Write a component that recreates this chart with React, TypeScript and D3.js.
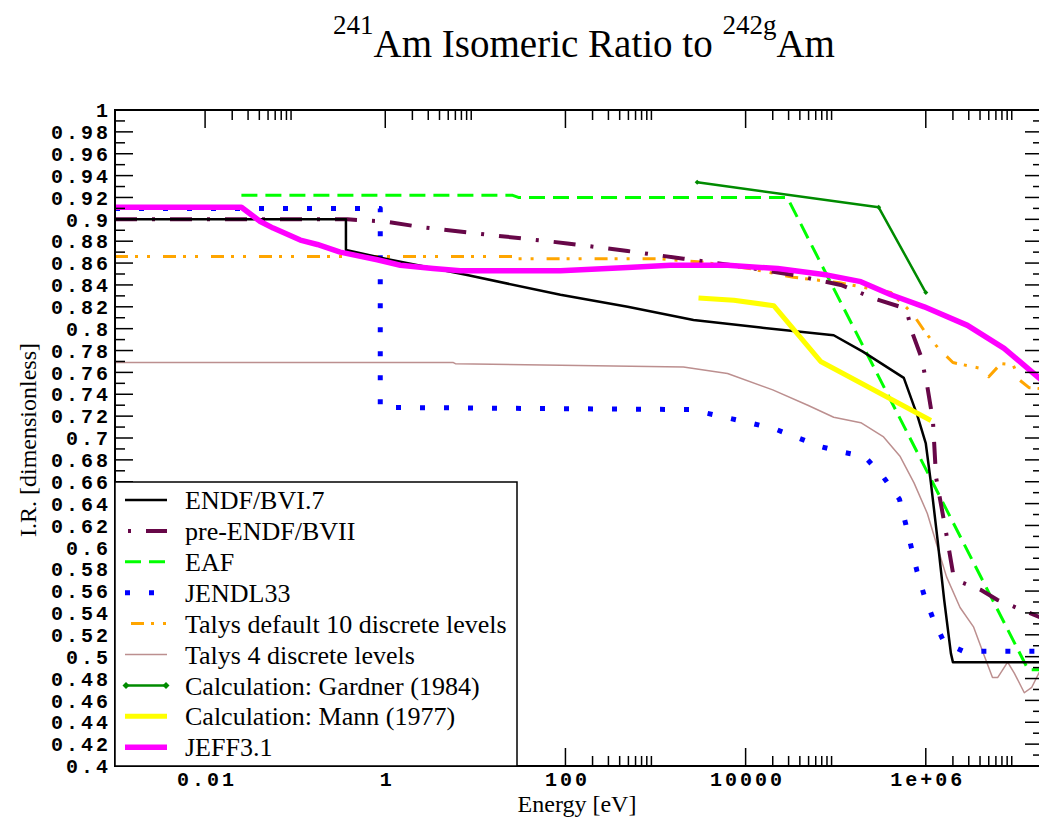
import React from 'react';
import * as d3 from 'd3';

// energies in eV, ratio values
const endf: [number, number][] = [
  [1e-3, 0.9], [0.366, 0.9], [0.366, 0.872], [1, 0.864], [8.1, 0.849], [88, 0.831],
  [490, 0.82], [2640, 0.808], [14700, 0.801], [9.5e4, 0.794], [2e5, 0.779],
  [5.7e5, 0.755], [8.1e5, 0.72], [1e6, 0.695], [1.14e6, 0.659], [1.35e6, 0.607],
  [1.6e6, 0.552], [1.9e6, 0.503], [2e6, 0.495], [2e7, 0.495]
];
const preEndf: [number, number][] = [
  [1e-3, 0.9], [0.38, 0.9], [1, 0.898], [2.45, 0.893], [8.1, 0.888], [38, 0.882],
  [105, 0.878], [490, 0.871], [2040, 0.864], [8800, 0.857], [3.4e4, 0.849],
  [1.14e5, 0.84], [2.8e5, 0.827], [5.2e5, 0.82], [6.3e5, 0.8125], [7.1e5, 0.796],
  [8.9e5, 0.774], [1.04e6, 0.747], [1.2e6, 0.716], [1.3e6, 0.664], [1.66e6, 0.616],
  [2e6, 0.577], [2.5e6, 0.568], [4.1e6, 0.561], [6.2e6, 0.552], [1e7, 0.545], [2e7, 0.535]
];
const eaf: [number, number][] = [
  [0.0253, 0.922], [26, 0.922], [30, 0.92], [2.9e4, 0.92], [1.37e7, 0.488], [2e7, 0.488]
];
const jendl: [number, number][] = [
  [1e-3, 0.91], [0.88, 0.91], [0.88, 0.728], [2450, 0.726], [1.1e4, 0.714],
  [2.15e4, 0.708], [6.9e4, 0.692], [1.2e5, 0.687], [2.1e5, 0.683], [3.4e5, 0.664],
  [5.1e5, 0.644], [6e5, 0.621], [8e5, 0.578], [9.6e5, 0.556], [1.2e6, 0.535],
  [1.6e6, 0.513], [2.6e6, 0.505], [2e7, 0.505]
];
const talys10: [number, number][] = [
  [1e-3, 0.866], [26, 0.866], [30, 0.864], [1050, 0.864], [3200, 0.861], [1.1e4, 0.855],
  [3.4e4, 0.847], [1.1e5, 0.842], [4.1e5, 0.833], [7.1e5, 0.814], [1e6, 0.796],
  [1.35e6, 0.783], [2e6, 0.769], [3.9e6, 0.764], [5e6, 0.756], [6.8e6, 0.768],
  [9.3e6, 0.767], [1.1e7, 0.753], [1.4e7, 0.746], [2e7, 0.745]
];
const talys4: [number, number][] = [
  [1e-3, 0.769], [5.7, 0.769], [6, 0.768], [2040, 0.765], [6300, 0.759], [2e4, 0.744],
  [4.9e4, 0.73], [9.5e4, 0.719], [1.9e5, 0.714], [3.4e5, 0.701], [5.2e5, 0.683],
  [7.4e5, 0.659], [1.04e6, 0.631], [1.35e6, 0.6], [1.7e6, 0.573], [2.4e6, 0.545],
  [3.4e6, 0.527], [4.5e6, 0.5], [5.5e6, 0.481], [6.3e6, 0.481], [8.1e6, 0.495],
  [9.6e6, 0.485], [1.24e7, 0.467], [1.5e7, 0.472], [1.8e7, 0.485], [2e7, 0.49]
];
const gardner: [number, number][] = [[2900, 0.934], [3e5, 0.911], [1e6, 0.833]];
const mann: [number, number][] = [
  [3000, 0.828], [7400, 0.826], [2.05e4, 0.821], [6.8e4, 0.77], [1.14e6, 0.716]
];
const jeff: [number, number][] = [
  [1e-3, 0.911], [0.0253, 0.911], [0.041, 0.898], [0.057, 0.892], [0.114, 0.881],
  [0.176, 0.877], [0.316, 0.87], [0.815, 0.863], [1.47, 0.858], [3.4, 0.855],
  [6.8, 0.853], [88, 0.853], [490, 0.856], [1470, 0.858], [6300, 0.858],
  [2.27e4, 0.855], [8.1e4, 0.849], [1.9e5, 0.843], [4.1e5, 0.831], [9.6e5, 0.82],
  [2.9e6, 0.803], [7.4e6, 0.782], [1.8e7, 0.755], [2e7, 0.752]
];

const seriesNames = [
  'ENDF/BVI.7', 'pre-ENDF/BVII', 'EAF', 'JENDL33', 'Talys default 10 discrete levels',
  'Talys 4 discrete levels', 'Calculation: Gardner (1984)', 'Calculation: Mann (1977)', 'JEFF3.1'
];
const seriesData = [endf, preEndf, eaf, jendl, talys10, talys4, gardner, mann, jeff];

const xMajor = [0.01, 1, 100, 10000, 1e6];
const xTickLabels = ['0.01', '1', '100', '10000', '1e+06'];

const styles = [
  { color: '#000000', width: 2.5, dash: '' },
  { color: '#670748', width: 4, dash: '22 15 3 15' },
  { color: '#00ff00', width: 3, dash: '16 8' },
  { color: '#0000ff', width: 5, dash: '5 19' },
  { color: '#ffa500', width: 3, dash: '13 7 3 9 3 13' },
  { color: '#bc8f8f', width: 1.5, dash: '' },
  { color: '#008b00', width: 2.5, dash: '' },
  { color: '#ffff00', width: 5, dash: '' },
  { color: '#ff00ff', width: 5.5, dash: '' }
];
const drawOrder = [5, 2, 3, 4, 1, 0, 6, 7, 8];

const W = 1039;
const H = 819;
const left = 115, right = 1043, top = 110, bottom = 766;

export default function App() {
  const x = d3.scaleLog().domain([1e-3, 2e7]).range([left, right]);
  const y = d3.scaleLinear().domain([0.4, 1]).range([bottom, top]);
  const line = d3.line<[number, number]>().x(d => x(d[0])).y(d => y(d[1]));

  const yMajor = d3.range(0, 31).map(i => +(0.4 + i * 0.02).toFixed(2));
  const yMinor = d3.range(0, 30).map(i => 0.41 + i * 0.02);
  const xMinor = xMajor.flatMap(m => d3.range(2, 10).map(k => m * k)).filter(v => v < 2e7);

  const mono = { fontFamily: '"Liberation Mono", "DejaVu Sans Mono", monospace', fontWeight: 700, fontSize: 20, letterSpacing: 3 };
  const serif = '"Liberation Serif", "DejaVu Serif", serif';

  const legX = 115, legY = 482, legW = 402, legH = 284;
  const rowY = (i: number) => 500 + i * 30.9;

  const diamond = (cx: number, cy: number, r: number) =>
    `M${cx - r},${cy}L${cx},${cy - r}L${cx + r},${cy}L${cx},${cy + r}Z`;

  return (
    <svg width={W} height={H} style={{ position: 'absolute', left: 0, top: 0, display: 'block', background: '#fff' }}>
      <defs>
        <clipPath id="plot">
          <rect x={left} y={top} width={right - left} height={bottom - top} />
        </clipPath>
      </defs>

      <text x={584} y={57} textAnchor="middle" fontFamily={serif} fontSize={39} fill="#000">
        <tspan fontSize={27} dy={-23}>241</tspan>
        <tspan dy={23}>Am Isomeric Ratio to </tspan>
        <tspan fontSize={27} dy={-23}>242g</tspan>
        <tspan dy={23}>Am</tspan>
      </text>

      <g clipPath="url(#plot)" fill="none" strokeLinejoin="round">
        {drawOrder.map(i => (
          <path key={i} d={line(seriesData[i]) || ''} stroke={styles[i].color}
            strokeWidth={styles[i].width} strokeDasharray={styles[i].dash || undefined} />
        ))}
        {gardner.map((d, i) => (
          <path key={'g' + i} d={diamond(x(d[0]), y(d[1]), 2.5)} fill="#008b00" />
        ))}
      </g>

      <g stroke="#000" strokeWidth={1.5}>
        <rect x={left} y={top} width={right - left} height={bottom - top} fill="none" strokeWidth={2} />
        {yMajor.map(v => (
          <g key={'ym' + v}>
            <line x1={left} x2={left + 18} y1={y(v)} y2={y(v)} />
            <line x1={right} x2={right - 18} y1={y(v)} y2={y(v)} />
          </g>
        ))}
        {yMinor.map(v => (
          <g key={'yn' + v}>
            <line x1={left} x2={left + 10} y1={y(v)} y2={y(v)} />
            <line x1={right} x2={right - 10} y1={y(v)} y2={y(v)} />
          </g>
        ))}
        {xMajor.map(v => (
          <g key={'xm' + v}>
            <line x1={x(v)} x2={x(v)} y1={bottom} y2={bottom - 18} />
            <line x1={x(v)} x2={x(v)} y1={top} y2={top + 18} />
          </g>
        ))}
        {xMinor.map(v => (
          <g key={'xn' + v}>
            <line x1={x(v)} x2={x(v)} y1={bottom} y2={bottom - 10} />
            <line x1={x(v)} x2={x(v)} y1={top} y2={top + 10} />
          </g>
        ))}
      </g>

      <g style={mono} fill="#000">
        {yMajor.map(v => (
          <text key={'yl' + v} x={111} y={y(v)} dy="0.36em" textAnchor="end">{String(v)}</text>
        ))}
        {xMajor.map((v, i) => (
          <text key={'xl' + v} x={x(v) + 2} y={786} textAnchor="middle">{xTickLabels[i]}</text>
        ))}
      </g>

      <text x={577} y={812} textAnchor="middle" fontFamily={serif} fontSize={24} fill="#000">Energy [eV]</text>
      <text transform="translate(36,440) rotate(-90)" textAnchor="middle" fontFamily={serif} fontSize={24} fill="#000">I.R. [dimensionless]</text>

      <g>
        <rect x={legX} y={legY} width={legW} height={legH} fill="#fff" stroke="#000" strokeWidth={1.5} />
        {seriesNames.map((name, i) => (
          <g key={name}>
            <line x1={125} x2={167} y1={rowY(i)} y2={rowY(i)} stroke={styles[i].color}
              strokeWidth={styles[i].width} strokeDasharray={styles[i].dash || undefined}
              strokeDashoffset={i === 1 ? 34 : i === 4 ? 42 : 0} />
            {i === 6 && (
              <g fill="#008b00">
                <path d={diamond(126, rowY(i), 3.5)} />
                <path d={diamond(166, rowY(i), 3.5)} />
              </g>
            )}
            <text x={185} y={rowY(i)} dy="0.35em" fontFamily={serif} fontSize={26} fill="#000">{name}</text>
          </g>
        ))}
      </g>
    </svg>
  );
}
